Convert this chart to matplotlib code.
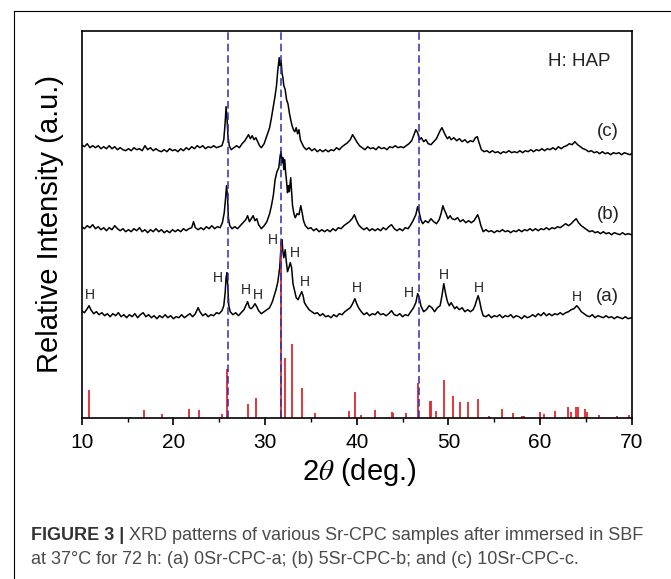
import matplotlib
matplotlib.use("Agg")
import matplotlib.pyplot as plt
from matplotlib.lines import Line2D
from matplotlib.ticker import MultipleLocator
import numpy as np

plt.rcParams['font.family'] = ['Liberation Sans', 'DejaVu Sans']
plt.rcParams['mathtext.fontset'] = 'stix'

# --- data (2theta in deg, intensity in arbitrary units) ---
curve_a = [(10.0, 107), (10.3, 105), (10.6, 109), (10.8, 112), (11.0, 108), (11.3, 104), (11.6, 106),
           (11.9, 103), (12.2, 105), (12.5, 102), (12.8, 104), (13.1, 101), (13.4, 104), (13.7, 102),
           (14.0, 105), (14.3, 101), (14.6, 103), (14.9, 100), (15.2, 103), (15.5, 101), (15.8, 104),
           (16.1, 100), (16.4, 103), (16.7, 105), (17.0, 101), (17.3, 103), (17.6, 100), (17.9, 102),
           (18.2, 99), (18.5, 102), (18.8, 100), (19.1, 103), (19.4, 100), (19.7, 102), (20.0, 99),
           (20.3, 101), (20.6, 100), (20.9, 103), (21.2, 100), (21.5, 102), (21.8, 104), (22.1, 101),
           (22.4, 104), (22.7, 110), (22.9, 106), (23.2, 102), (23.5, 104), (23.8, 101), (24.1, 103),
           (24.4, 102), (24.7, 105), (25.0, 104), (25.3, 107), (25.5, 112), (25.65, 125), (25.75, 140),
           (25.85, 145), (25.95, 128), (26.05, 112), (26.2, 106), (26.5, 103), (26.8, 105), (27.1, 102),
           (27.4, 105), (27.7, 108), (27.9, 112), (28.1, 116), (28.3, 110), (28.5, 109), (28.7, 111),
           (28.9, 114), (29.1, 111), (29.3, 107), (29.6, 104), (29.9, 106), (30.2, 108), (30.5, 110),
           (30.8, 116), (31.0, 122), (31.2, 128), (31.4, 136), (31.6, 150), (31.75, 172), (31.85, 178),
           (31.95, 166), (32.05, 160), (32.2, 168), (32.3, 158), (32.45, 146), (32.6, 150), (32.75, 155),
           (32.9, 150), (33.05, 134), (33.2, 128), (33.4, 120), (33.6, 118), (33.8, 122), (34.0, 126),
           (34.15, 122), (34.3, 115), (34.5, 112), (34.8, 108), (35.1, 106), (35.4, 104), (35.7, 105),
           (36.0, 102), (36.3, 104), (36.6, 101), (36.9, 102), (37.2, 100), (37.5, 103), (37.8, 101),
           (38.1, 104), (38.4, 103), (38.7, 106), (39.0, 108), (39.3, 110), (39.55, 114), (39.8, 119),
           (40.0, 114), (40.2, 110), (40.5, 106), (40.8, 103), (41.1, 105), (41.4, 102), (41.7, 104),
           (42.0, 103), (42.3, 106), (42.6, 103), (42.9, 104), (43.2, 102), (43.5, 104), (43.8, 107),
           (44.1, 103), (44.4, 102), (44.7, 104), (45.0, 101), (45.3, 103), (45.6, 102), (45.9, 106),
           (46.2, 110), (46.45, 115), (46.65, 124), (46.8, 121), (47.0, 112), (47.3, 106), (47.6, 108),
           (47.9, 112), (48.2, 110), (48.5, 106), (48.8, 110), (49.1, 112), (49.3, 122), (49.5, 134),
           (49.7, 124), (49.9, 116), (50.1, 112), (50.3, 115), (50.5, 112), (50.7, 109), (50.9, 111),
           (51.2, 108), (51.5, 110), (51.8, 106), (52.1, 108), (52.4, 106), (52.7, 108), (52.9, 112),
           (53.1, 118), (53.25, 122), (53.4, 117), (53.6, 108), (53.8, 102), (54.1, 101), (54.4, 103),
           (54.7, 100), (55.0, 102), (55.3, 101), (55.6, 103), (55.9, 100), (56.2, 102), (56.5, 101),
           (56.8, 103), (57.1, 100), (57.4, 102), (57.7, 101), (58.0, 99), (58.3, 102), (58.6, 100),
           (58.9, 101), (59.2, 103), (59.5, 101), (59.8, 104), (60.1, 102), (60.4, 105), (60.7, 102),
           (61.0, 104), (61.3, 102), (61.6, 104), (61.9, 103), (62.2, 105), (62.5, 103), (62.8, 105),
           (63.1, 106), (63.4, 108), (63.7, 109), (64.0, 112), (64.2, 110), (64.5, 106), (64.8, 104),
           (65.1, 102), (65.4, 101), (65.7, 103), (66.0, 100), (66.3, 102), (66.6, 101), (66.9, 100),
           (67.2, 102), (67.5, 100), (67.8, 101), (68.1, 99), (68.4, 101), (68.7, 100), (69.0, 99),
           (69.3, 101), (69.6, 99), (70.0, 100)]

curve_b = [(10.0, 191), (10.3, 189), (10.6, 192), (10.9, 190), (11.2, 193), (11.5, 189), (11.8, 191),
           (12.1, 188), (12.4, 190), (12.7, 187), (13.0, 190), (13.3, 188), (13.6, 192), (13.9, 189),
           (14.2, 187), (14.5, 189), (14.8, 186), (15.1, 188), (15.4, 186), (15.7, 189), (16.0, 187),
           (16.3, 190), (16.6, 186), (16.9, 188), (17.2, 185), (17.5, 188), (17.8, 186), (18.1, 189),
           (18.4, 186), (18.7, 188), (19.0, 185), (19.3, 187), (19.6, 185), (19.9, 188), (20.2, 186),
           (20.5, 188), (20.8, 186), (21.1, 189), (21.4, 187), (21.7, 189), (22.0, 190), (22.2, 196),
           (22.4, 190), (22.7, 188), (23.0, 190), (23.3, 188), (23.6, 191), (23.9, 189), (24.2, 192),
           (24.5, 189), (24.8, 191), (25.1, 190), (25.35, 195), (25.55, 205), (25.7, 220), (25.8, 232),
           (25.9, 222), (26.0, 200), (26.15, 192), (26.4, 189), (26.7, 191), (27.0, 189), (27.3, 192),
           (27.6, 195), (27.9, 198), (28.1, 202), (28.3, 196), (28.5, 199), (28.7, 202), (28.9, 197),
           (29.1, 199), (29.3, 193), (29.6, 189), (29.9, 192), (30.2, 196), (30.5, 204), (30.7, 212),
           (30.9, 222), (31.1, 238), (31.3, 246), (31.5, 250), (31.65, 262), (31.75, 266), (31.85, 255),
           (31.95, 260), (32.05, 248), (32.15, 258), (32.25, 245), (32.35, 236), (32.45, 225),
           (32.55, 232), (32.65, 226), (32.8, 240), (32.9, 226), (33.0, 212), (33.15, 204), (33.3, 200),
           (33.5, 204), (33.7, 203), (33.9, 212), (34.05, 205), (34.2, 197), (34.4, 192), (34.7, 189),
           (35.0, 190), (35.3, 187), (35.6, 189), (35.9, 186), (36.2, 188), (36.5, 186), (36.8, 188),
           (37.1, 186), (37.4, 189), (37.7, 187), (38.0, 190), (38.3, 189), (38.6, 192), (38.9, 194),
           (39.2, 196), (39.5, 199), (39.75, 203), (39.95, 198), (40.2, 193), (40.5, 190), (40.8, 188),
           (41.1, 190), (41.4, 187), (41.7, 189), (42.0, 187), (42.3, 189), (42.6, 187), (42.9, 190),
           (43.2, 188), (43.5, 191), (43.8, 193), (44.1, 189), (44.4, 187), (44.7, 189), (45.0, 187),
           (45.3, 190), (45.6, 189), (45.9, 193), (46.2, 198), (46.45, 203), (46.65, 211), (46.8, 206),
           (47.0, 198), (47.2, 194), (47.5, 197), (47.8, 195), (48.1, 199), (48.4, 196), (48.7, 194),
           (49.0, 198), (49.2, 204), (49.4, 212), (49.55, 208), (49.75, 204), (49.95, 199), (50.2, 202),
           (50.4, 199), (50.7, 198), (51.0, 200), (51.3, 196), (51.6, 198), (51.9, 195), (52.2, 197),
           (52.5, 195), (52.8, 197), (53.0, 200), (53.2, 203), (53.35, 199), (53.55, 192), (53.8, 186),
           (54.1, 188), (54.4, 186), (54.7, 187), (55.0, 185), (55.3, 187), (55.6, 186), (55.9, 188),
           (56.2, 186), (56.5, 187), (56.8, 185), (57.1, 187), (57.4, 186), (57.7, 188), (58.0, 186),
           (58.3, 188), (58.6, 187), (58.9, 189), (59.2, 187), (59.5, 189), (59.8, 187), (60.1, 189),
           (60.4, 188), (60.7, 190), (61.0, 188), (61.3, 190), (61.6, 189), (61.9, 191), (62.2, 190),
           (62.5, 192), (62.8, 194), (63.1, 192), (63.4, 194), (63.7, 197), (63.95, 199), (64.2, 195),
           (64.5, 192), (64.8, 190), (65.1, 188), (65.4, 186), (65.7, 187), (66.0, 185), (66.3, 186),
           (66.6, 184), (66.9, 186), (67.2, 184), (67.5, 185), (67.8, 183), (68.1, 185), (68.4, 184),
           (68.7, 183), (69.0, 185), (69.3, 183), (69.6, 184), (70.0, 183)]

curve_c = [(10.0, 273), (10.3, 271), (10.6, 274), (10.9, 270), (11.2, 272), (11.5, 270), (11.8, 272),
           (12.1, 269), (12.4, 271), (12.7, 269), (13.0, 272), (13.3, 269), (13.6, 271), (13.9, 268),
           (14.2, 270), (14.5, 268), (14.8, 267), (15.1, 269), (15.4, 267), (15.7, 270), (16.0, 268),
           (16.3, 269), (16.6, 267), (16.9, 272), (17.2, 268), (17.5, 270), (17.8, 267), (18.1, 269),
           (18.4, 267), (18.7, 266), (19.0, 268), (19.3, 266), (19.6, 269), (19.9, 267), (20.2, 268),
           (20.5, 266), (20.8, 269), (21.1, 267), (21.4, 270), (21.7, 268), (22.0, 271), (22.3, 269),
           (22.6, 272), (22.9, 270), (23.2, 272), (23.5, 269), (23.8, 271), (24.1, 270), (24.4, 272),
           (24.7, 270), (25.0, 271), (25.3, 272), (25.5, 278), (25.65, 295), (25.75, 311), (25.85, 300),
           (25.95, 282), (26.1, 272), (26.3, 268), (26.6, 270), (26.9, 272), (27.2, 270), (27.5, 274),
           (27.8, 277), (28.0, 280), (28.2, 283), (28.4, 279), (28.6, 282), (28.8, 278), (29.0, 280),
           (29.2, 276), (29.4, 272), (29.6, 270), (29.9, 274), (30.2, 282), (30.5, 290), (30.7, 300),
           (30.9, 311), (31.1, 322), (31.25, 332), (31.4, 348), (31.55, 360), (31.65, 352), (31.75, 357),
           (31.85, 345), (31.95, 340), (32.05, 332), (32.2, 328), (32.35, 318), (32.5, 314), (32.65, 305),
           (32.8, 298), (32.95, 292), (33.1, 288), (33.25, 286), (33.4, 290), (33.55, 284), (33.7, 288),
           (33.85, 278), (34.0, 275), (34.2, 271), (34.5, 268), (34.8, 270), (35.1, 267), (35.4, 269),
           (35.7, 266), (36.0, 268), (36.3, 266), (36.6, 268), (36.9, 266), (37.2, 268), (37.5, 267),
           (37.8, 270), (38.1, 268), (38.4, 271), (38.7, 273), (39.0, 275), (39.3, 278), (39.55, 283),
           (39.75, 280), (40.0, 276), (40.3, 272), (40.6, 270), (40.9, 268), (41.2, 271), (41.5, 269),
           (41.8, 270), (42.1, 268), (42.4, 271), (42.7, 269), (43.0, 270), (43.3, 268), (43.6, 271),
           (43.9, 270), (44.2, 272), (44.5, 270), (44.8, 271), (45.1, 270), (45.4, 272), (45.7, 274),
           (46.0, 277), (46.25, 283), (46.45, 288), (46.65, 285), (46.85, 278), (47.05, 280), (47.3, 276),
           (47.55, 278), (47.8, 274), (48.1, 273), (48.4, 276), (48.7, 279), (48.9, 283), (49.1, 287),
           (49.3, 290), (49.5, 286), (49.7, 282), (49.9, 279), (50.1, 281), (50.3, 278), (50.6, 280),
           (50.9, 277), (51.2, 279), (51.5, 276), (51.8, 278), (52.1, 275), (52.4, 277), (52.7, 276),
           (52.95, 280), (53.15, 281), (53.35, 275), (53.6, 268), (53.9, 266), (54.2, 267), (54.5, 265),
           (54.8, 267), (55.1, 265), (55.4, 266), (55.7, 264), (56.0, 266), (56.3, 265), (56.6, 267),
           (56.9, 265), (57.2, 266), (57.5, 265), (57.8, 267), (58.1, 265), (58.4, 267), (58.7, 266),
           (59.0, 268), (59.3, 266), (59.6, 268), (59.9, 267), (60.2, 269), (60.5, 267), (60.8, 269),
           (61.1, 268), (61.4, 270), (61.7, 268), (62.0, 271), (62.3, 269), (62.6, 271), (62.9, 272),
           (63.2, 274), (63.5, 273), (63.8, 276), (64.1, 273), (64.4, 271), (64.7, 269), (65.0, 268),
           (65.3, 266), (65.6, 267), (65.9, 265), (66.2, 266), (66.5, 264), (66.8, 266), (67.1, 264),
           (67.4, 265), (67.7, 263), (68.0, 265), (68.3, 264), (68.6, 265), (68.9, 263), (69.2, 265),
           (69.5, 264), (69.8, 263), (70.0, 264)]

# HAP reference pattern (red sticks)
hap_pos = [10.8, 16.83, 18.8, 21.7, 22.85, 25.3, 25.9, 28.1, 28.97, 31.77, 32.18, 32.9, 34.05, 35.45,
           39.2, 39.8, 40.45, 42.0, 43.8, 44.0, 45.35, 46.72, 48.0, 48.15, 48.6, 49.5, 50.5, 51.28,
           52.1, 53.2, 54.45, 55.85, 57.1, 58.05, 58.3, 59.95, 60.4, 61.65, 63.0, 63.4, 63.95, 64.15,
           64.95, 65.15, 66.4, 68.45, 69.7]
hap_int = [28, 8, 4, 9, 8, 4, 49, 14, 20, 177, 60, 74, 30, 5,
           7, 26, 3, 8, 6, 5, 5, 35, 17, 17, 7, 38, 22, 16,
           16, 19, 2, 9, 5, 2, 2, 6, 4, 7, 11, 6, 11, 11,
           9, 6, 3, 1.5, 3]

guide_lines = [26.0, 31.75, 46.75]

h_marks = [(10.9, 123), (24.9, 140), (27.9, 128), (29.2, 123), (30.9, 178), (33.3, 165),
           (34.3, 136), (40.0, 130), (45.7, 125), (49.5, 143), (53.3, 130), (64.0, 121)]

sample_labels = ['(a)', '(b)', '(c)']
sample_label_y = [121, 203, 286]

W, H = 671, 579
fig = plt.figure(figsize=(W / 100, H / 100), dpi=100)
ax = fig.add_axes([81.7 / W, 1 - 417.7 / H, 550 / W, 387.2 / H])

for c in (curve_a, curve_b, curve_c):
    arr = np.array(c)
    ax.plot(arr[:, 0], arr[:, 1], color='black', lw=1.1)

ax.vlines(hap_pos, 0, hap_int, color='#e3262b', lw=1.3)

for gx in guide_lines:
    ax.axvline(gx, color='#2e2eb0', lw=1.1, ls=(0, (5, 2.5)))

for hx, hy in h_marks:
    ax.text(hx, hy, 'H', ha='center', va='center', fontsize=10, color='#222222')

for lab, ly in zip(sample_labels, sample_label_y):
    ax.text(67.4, ly, lab, ha='center', va='center', fontsize=13.5, color='#222222')

ax.text(64.3, 356, 'H: HAP', ha='center', va='center', fontsize=13.5, color='#222222')

ax.set_xlim(10, 70)
ax.set_ylim(0, 387.2)
ax.set_yticks([])
ax.xaxis.set_major_locator(MultipleLocator(10))
ax.xaxis.set_minor_locator(MultipleLocator(5))
ax.tick_params(axis='x', which='major', direction='out', length=5, width=1.2, labelsize=15, pad=6)
ax.tick_params(axis='x', which='minor', direction='out', length=3, width=1.0)
for sp in ax.spines.values():
    sp.set_linewidth(1.2)

ax.set_xlabel(r'2$\theta$ (deg.)', fontsize=21, va='center')
ax.xaxis.set_label_coords((359 - 81.7) / 550, -(472 - 417.7) / 387.2)
ax.set_ylabel('Relative Intensity (a.u.)', fontsize=21, va='center')
ax.yaxis.set_label_coords((50 - 81.7) / 550, 0.5)

# outer frame of the figure panel
fig.add_artist(Line2D([14 / W, 1], [1 - 11 / H, 1 - 11 / H], transform=fig.transFigure, color='k', lw=0.8))
fig.add_artist(Line2D([14 / W, 14 / W], [0, 1 - 11 / H], transform=fig.transFigure, color='k', lw=0.8))

# caption
renderer = fig.canvas.get_renderer()
t1 = fig.text(31 / W, 1 - 535 / H, 'FIGURE 3 |', fontsize=13, fontweight='bold', color='#333333',
              va='center', ha='left')
bb = t1.get_window_extent(renderer)
fig.text(bb.x1 / W + 5 / W, 1 - 535 / H,
         'XRD patterns of various Sr-CPC samples after immersed in SBF',
         fontsize=13, color='#4a4a4a', va='center', ha='left')
fig.text(31 / W, 1 - 560 / H, 'at 37\u00b0C for 72 h: (a) 0Sr-CPC-a; (b) 5Sr-CPC-b; and (c) 10Sr-CPC-c.',
         fontsize=13, color='#4a4a4a', va='center', ha='left')

fig.savefig('out.png', dpi=100)
